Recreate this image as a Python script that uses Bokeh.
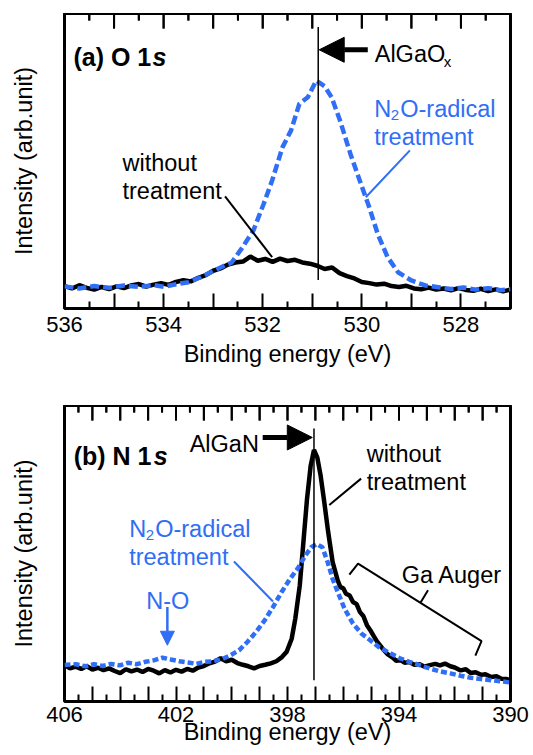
from bokeh.plotting import figure
from bokeh.models import Range1d, FixedTicker, Label, Arrow, NormalHead, ColumnDataSource, Spacer
from bokeh.layouts import column
from bokeh.embed import file_html
from bokeh.resources import INLINE

BLUE = "#2f6ef5"
FONT = "Liberation Sans"

# ---------------- (a) O 1s data ----------------
o1s_e_without = [536.0, 535.85, 535.7, 535.55, 535.4, 535.25, 535.1, 534.95, 534.8, 534.65,
                 534.5, 534.35, 534.2, 534.05, 533.9, 533.75, 533.6, 533.45, 533.3, 533.15,
                 533.0, 532.85, 532.7, 532.55, 532.4, 532.25, 532.1, 531.95, 531.8, 531.65,
                 531.5, 531.35, 531.2, 531.05, 530.9, 530.75, 530.6, 530.45, 530.3, 530.15,
                 530.0, 529.85, 529.7, 529.55, 529.4, 529.25, 529.1, 528.95, 528.8, 528.65,
                 528.5, 528.35, 528.2, 528.05, 527.9, 527.75, 527.6, 527.45, 527.3, 527.15, 527.0]
o1s_without = [7.6, 6.8, 7.9, 7.0, 6.4, 7.3, 6.6, 7.5, 6.9, 7.8,
               8.3, 7.4, 8.1, 8.6, 8.0, 9.0, 9.6, 9.2, 10.4, 11.3,
               12.8, 13.6, 14.9, 15.6, 15.9, 17.6, 16.2, 16.8, 15.8, 16.9,
               16.1, 16.5, 15.6, 15.2, 14.5, 13.4, 13.9, 12.0, 11.0, 10.2,
               9.0, 8.6, 8.1, 8.4, 7.6, 7.3, 7.7, 6.8, 6.5, 7.1,
               6.4, 6.8, 6.2, 6.9, 6.3, 6.0, 6.7, 5.9, 6.5, 5.8, 6.4]

o1s_e_n2o = [536.0, 535.7, 535.4, 535.1, 534.8, 534.5, 534.2, 534.0, 533.75, 533.5,
             533.25, 533.0, 532.8, 532.63, 532.43, 532.19, 531.98, 531.81, 531.6, 531.43,
             531.26, 531.09, 530.92, 530.75, 530.61, 530.44, 530.23, 530.02, 529.85, 529.68,
             529.48, 529.27, 529.0, 528.72, 528.45, 528.2, 527.95, 527.7, 527.45, 527.2, 527.0]
o1s_n2o = [7.5, 6.8, 7.6, 7.0, 7.8, 7.3, 7.9, 7.4, 8.2, 8.9,
           10.6, 12.7, 14.3, 15.5, 20.2, 26.4, 35.5, 43.4, 54.7, 60.3,
           69.4, 71.6, 77.3, 75.3, 71.6, 63.7, 52.4, 42.3, 34.3, 25.3,
           17.4, 12.3, 9.5, 7.8, 7.2, 6.6, 7.1, 6.4, 6.9, 6.2, 6.6]

o1s_major = [527, 528, 529, 530, 531, 532, 533, 534, 535, 536]
o1s_minor = [527.5, 528.5, 529.5, 530.5, 531.5, 532.5, 533.5, 534.5, 535.5]
o1s_labeled = [536, 534, 532, 530, 528]

# ---------------- (b) N 1s data ----------------
n1s_e_without = [406.0, 405.8, 405.6, 405.4, 405.2, 405.0, 404.8, 404.6, 404.4, 404.2,
                 404.0, 403.8, 403.6, 403.4, 403.2, 403.0, 402.8, 402.6, 402.4, 402.2,
                 402.0, 401.8, 401.6, 401.4, 401.2, 401.0, 400.8, 400.6, 400.4, 400.2,
                 400.0, 399.8, 399.6, 399.4, 399.2, 399.0, 398.8, 398.6, 398.4, 398.2,
                 398.03, 397.85, 397.72, 397.56, 397.42, 397.3, 397.17, 397.05, 396.93, 396.81,
                 396.68, 396.54, 396.38, 396.2, 396.1, 396.0, 395.9, 395.77, 395.65, 395.52,
                 395.4, 395.28, 395.15, 395.03, 394.9, 394.79, 394.67, 394.55, 394.4, 394.24,
                 394.1, 393.93, 393.8, 393.63, 393.45, 393.26, 393.1, 392.89, 392.7, 392.53,
                 392.35, 392.16, 392.0, 391.79, 391.6, 391.43, 391.25, 391.06, 390.9, 390.69,
                 390.5, 390.33, 390.15, 390.0]
n1s_without = [12.3, 11.2, 11.8, 11.0, 11.9, 10.8, 11.4, 10.6, 11.2, 10.3,
               9.6, 10.9, 10.2, 10.8, 10.0, 11.0, 10.4, 9.5, 10.6, 9.8,
               10.7, 10.1, 11.0, 10.4, 11.5, 12.0, 12.9, 13.5, 14.6, 13.6,
               14.1, 13.0, 12.4, 11.9, 11.2, 12.0, 12.4, 12.9, 13.6, 15.0,
               16.8, 21.2, 28.0, 39.2, 54.9, 68.4, 79.6, 85.0, 82.4, 76.2,
               67.3, 57.2, 47.1, 40.9, 38.6, 38.3, 36.4, 35.8, 33.6, 32.9,
               30.2, 28.9, 25.8, 24.1, 22.0, 20.3, 18.9, 17.4, 15.9, 14.9,
               13.8, 13.9, 13.1, 13.3, 12.4, 12.6, 11.8, 12.3, 12.7, 12.2,
               12.8, 11.9, 11.5, 10.5, 10.9, 9.6, 9.9, 9.0, 9.2, 8.3,
               8.5, 7.7, 7.6, 7.2]

n1s_e_n2o = [406.0, 405.6, 405.24, 404.94, 404.63, 404.33, 404.02, 403.71, 403.41, 403.1,
             402.8, 402.49, 402.19, 401.88, 401.57, 401.27, 400.96, 400.66, 400.35, 400.05,
             399.74, 399.44, 399.13, 398.82, 398.52, 398.21, 397.91, 397.6, 397.36, 397.15,
             396.95, 396.75, 396.56, 396.38, 396.2, 395.95, 395.65, 395.34, 395.03, 394.73,
             394.36, 393.99, 393.63, 393.26, 392.89, 392.53, 392.16, 391.79, 391.43, 391.06,
             390.69, 390.33, 390.0]
n1s_n2o = [12.3, 12.6, 11.9, 12.6, 12.0, 12.7, 12.2, 13.1, 12.6, 13.4,
           13.9, 14.8, 14.2, 13.6, 13.2, 12.7, 13.4, 13.6, 14.3, 15.6,
           17.3, 20.1, 23.5, 27.4, 31.9, 37.0, 41.4, 45.4, 49.3, 52.1,
           53.2, 52.1, 47.1, 41.4, 37.0, 31.3, 26.3, 22.9, 20.7, 18.4,
           16.5, 14.7, 13.4, 12.3, 11.1, 10.2, 9.5, 8.7, 8.0, 7.6,
           7.2, 6.8, 6.4]

n1s_major = list(range(390, 407))
n1s_minor = [v + 0.5 for v in range(390, 406)]
n1s_labeled = [406, 402, 398, 394, 390]

Y_TOP = 100
MAJOR_TICK_PX = 15
MINOR_TICK_PX = 7


def make_panel(x_lo, x_hi, majors, minors, labeled, frame_h, bottom,
               lab_standoff, axlab_standoff):
    p = figure(frame_width=446, frame_height=frame_h, title=None,
               x_range=Range1d(x_lo, x_hi), y_range=Range1d(0, Y_TOP),
               output_backend="svg", toolbar_location=None,
               min_border_left=64, min_border_right=22,
               min_border_top=0, min_border_bottom=bottom,
               background_fill_color="white", border_fill_color="white")
    p.xgrid.visible = False
    p.ygrid.visible = False
    p.outline_line_color = "black"
    p.outline_line_width = 3

    ax = p.xaxis[0]
    ax.ticker = FixedTicker(ticks=majors, minor_ticks=minors)
    ax.major_label_overrides = {t: (str(t) if t in labeled else "") for t in majors}
    ax.axis_line_color = None
    ax.major_tick_in = MAJOR_TICK_PX
    ax.major_tick_out = 0
    ax.minor_tick_in = MINOR_TICK_PX
    ax.minor_tick_out = 0
    ax.major_tick_line_width = 2
    ax.minor_tick_line_width = 2
    ax.major_label_text_font = FONT
    ax.major_label_text_font_size = "22px"
    ax.major_label_text_color = "black"
    ax.major_label_standoff = lab_standoff
    ax.axis_label = "Binding energy (eV)"
    ax.axis_label_text_font = FONT
    ax.axis_label_text_font_size = "23.5px"
    ax.axis_label_text_font_style = "normal"
    ax.axis_label_text_color = "black"
    ax.axis_label_standoff = axlab_standoff

    # ticks along the top edge of the frame, pointing inward (same tick positions)
    maj_len = Y_TOP * MAJOR_TICK_PX / frame_h
    min_len = Y_TOP * MINOR_TICK_PX / frame_h
    xs = list(majors) + list(minors)
    y1 = [Y_TOP - maj_len] * len(majors) + [Y_TOP - min_len] * len(minors)
    tick_src = ColumnDataSource(data=dict(x=xs, y0=[Y_TOP] * len(xs), y1=y1))
    p.add_layout(Arrow(start=None, end=None, source=tick_src,
                       x_start="x", y_start="y0", x_end="x", y_end="y1",
                       line_color="black", line_width=2, level="overlay"))
    p.segment(x0="x", y0="y0", x1="x", y1="y1", source=tick_src,
              line_color="black", line_width=2, level="overlay")

    ay = p.yaxis[0]
    ay.ticker = FixedTicker(ticks=[])
    ay.axis_line_color = None
    ay.major_tick_in = 0
    ay.major_tick_out = 0
    ay.minor_tick_in = 0
    ay.minor_tick_out = 0
    ay.major_label_text_font_size = "2px"
    ay.major_label_text_alpha = 0
    ay.major_label_standoff = 0
    ay.axis_label = "Intensity (arb.unit)"
    ay.axis_label_text_font = FONT
    ay.axis_label_text_font_size = "23.5px"
    ay.axis_label_text_font_style = "normal"
    ay.axis_label_text_color = "black"
    ay.axis_label_standoff = 28
    return p


def text(p, x, y, s, size="23.5px", color="black", style="normal", x_offset=0):
    p.add_layout(Label(x=x, y=y, text=s, text_font=FONT, text_font_size=size,
                       text_color=color, text_font_style=style,
                       text_baseline="alphabetic", text_align="left", x_offset=x_offset))


# ---------------- panel (a) ----------------
pa = make_panel(536, 527, o1s_major, o1s_minor, o1s_labeled, 295, 62, 8, 6)
pa.line(o1s_e_without, o1s_without, line_color="black", line_width=4.5)
pa.line(o1s_e_n2o, o1s_n2o, line_color=BLUE, line_width=4.5, line_dash="9 4")
pa.segment(x0=[530.88], y0=[9.7], x1=[530.88], y1=[95.4], line_color="black", line_width=1.5)
pa.add_layout(Arrow(end=NormalHead(size=25, fill_color="black", line_color="black"),
                    x_start=529.88, y_start=87.7, x_end=530.86, y_end=87.7,
                    line_color="black", line_width=5))
pa.segment(x0=[532.76], y0=[38.0], x1=[531.81], y1=[17.4], line_color="black", line_width=2)
pa.segment(x0=[529.03], y0=[53.6], x1=[529.92], y1=[37.7], line_color=BLUE, line_width=2)

text(pa, 535.82, 85.1, "(a) O 1", size="25px", style="bold")
text(pa, 535.82, 85.1, "s", size="25px", style="bold italic", x_offset=79)
text(pa, 529.74, 86.3, "AlGaO")
text(pa, 529.74, 83.6, "x", size="15px", x_offset=69)
text(pa, 534.83, 49.4, "without")
text(pa, 534.83, 39.8, "treatment")
text(pa, 529.75, 67.7, "N", color=BLUE)
text(pa, 529.75, 65.6, "2", size="15px", color=BLUE, x_offset=16.5)
text(pa, 529.75, 67.7, "O-radical", color=BLUE, x_offset=26)
text(pa, 529.75, 58.1, "treatment", color=BLUE)

# ---------------- panel (b) ----------------
pb = make_panel(406, 390, n1s_major, n1s_minor, n1s_labeled, 296, 40, 5, -6)
pb.line(n1s_e_without, n1s_without, line_color="black", line_width=4.5)
pb.line(n1s_e_n2o, n1s_n2o, line_color=BLUE, line_width=4.5, line_dash="6 3")
pb.segment(x0=[397.05], y0=[7.2], x1=[397.05], y1=[92.2], line_color="black", line_width=1.5)
pb.add_layout(Arrow(end=NormalHead(size=25, fill_color="black", line_color="black"),
                    x_start=398.89, y_start=89.2, x_end=397.11, y_end=89.2,
                    line_color="black", line_width=5))
pb.add_layout(Arrow(end=NormalHead(size=14, fill_color=BLUE, line_color=BLUE),
                    x_start=402.31, y_start=31.9, x_end=402.31, y_end=19.0,
                    line_color=BLUE, line_width=2.5))
pb.segment(x0=[395.36], y0=[75.3], x1=[396.5], y1=[66.4], line_color="black", line_width=2)
pb.segment(x0=[399.92], y0=[47.3], x1=[398.52], y1=[33.8], line_color=BLUE, line_width=2)
# Ga Auger bracket
pb.line([395.78, 395.47, 391.04, 391.26], [42.9, 46.6, 20.4, 15.5], line_color="black", line_width=2)
pb.segment(x0=[392.96], y0=[37.6], x1=[393.22], y1=[33.5], line_color="black", line_width=2)

text(pb, 405.67, 83.0, "(b) N 1", size="25px", style="bold")
text(pb, 405.67, 83.0, "s", size="25px", style="bold italic", x_offset=80)
text(pb, 401.51, 86.9, "AlGaN")
text(pb, 395.16, 83.5, "without")
text(pb, 395.16, 74.0, "treatment")
text(pb, 403.68, 58.3, "N", color=BLUE)
text(pb, 403.68, 56.2, "2", size="15px", color=BLUE, x_offset=16.5)
text(pb, 403.68, 58.3, "O-radical", color=BLUE, x_offset=26)
text(pb, 403.68, 48.7, "treatment", color=BLUE)
text(pb, 403.07, 33.8, "N-O", color=BLUE)
text(pb, 393.9, 42.8, "Ga Auger")

layout = column(Spacer(width=10, height=13), pa, Spacer(width=10, height=35), pb, spacing=0)
open("out.html", "w").write(file_html(layout, INLINE))
